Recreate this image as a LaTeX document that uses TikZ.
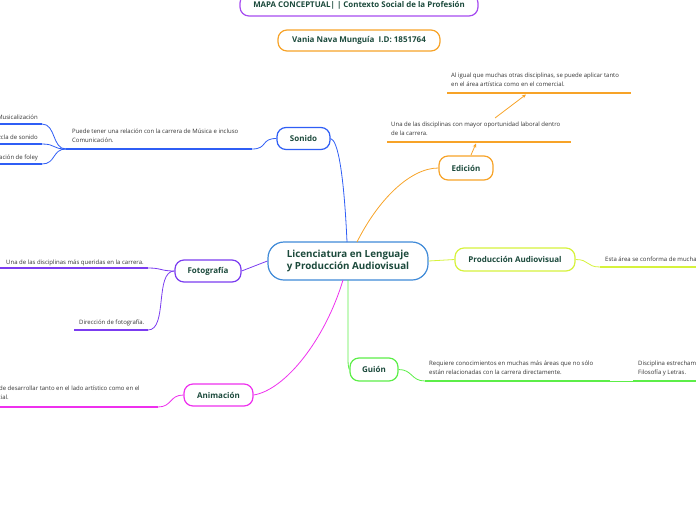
\documentclass[tikz,border=0pt]{standalone}
\usepackage{fontspec}
\setmainfont{Open Sans}
\usetikzlibrary{arrows.meta}
\definecolor{cSon}{HTML}{2F5EF5}
\definecolor{cCen}{HTML}{3F8AD8}
\definecolor{cEdi}{HTML}{F7A328}
\definecolor{cPro}{HTML}{D6F23C}
\definecolor{cFot}{HTML}{7B3CF0}
\definecolor{cAni}{HTML}{EE30EE}
\definecolor{cGui}{HTML}{5CEE48}
\definecolor{cTit}{HTML}{A64CF0}
\definecolor{txtgreen}{HTML}{1C4A3C}
\definecolor{txtgray}{HTML}{333333}
\begin{document}
\begin{tikzpicture}[x=1pt,y=-1pt,
  topic/.style={draw=#1, line width=1.2pt, rounded corners=9pt, fill=white,
    font=\bfseries\fontsize{8}{9.5}\selectfont, text=txtgreen,
    minimum height=22pt, inner sep=0pt, align=center},
  sub/.style={font=\fontsize{6}{9}\selectfont, text=txtgray, align=left, inner sep=0pt},
  uline/.style={draw=#1, line width=1.6pt},
  conn/.style={draw=#1, line width=0.8pt},
  arr/.style={draw=cEdi, line width=0.8pt, -{Stealth[length=4pt,width=3.5pt]}},
]
\useasboundingbox (0,0) rectangle (696,520);

% header nodes
\node[topic=cTit, minimum width=238pt, font=\bfseries\fontsize{7.9}{9}\selectfont] (title) at (359,5) {MAPA CONCEPTUAL| | Contexto Social de la Profesión};
\node[topic=cEdi, minimum width=162pt, minimum height=21pt] (name) at (359,40.5) {Vania Nava Munguía \ I.D: 1851764};

% central node
\node[draw=cCen, line width=1.2pt, rounded corners=16pt, fill=white,
  font=\bfseries\fontsize{9.8}{12.5}\selectfont, text=txtgreen, align=center,
  minimum width=160pt, minimum height=38pt, inner sep=0pt] (centro) at (348,261)
  {Licenciatura en Lenguaje\\y Producción Audiovisual};

% topics
\node[topic=cSon, minimum width=53pt] (sonido) at (303.5,138.5) {Sonido};
\node[topic=cEdi, minimum width=54pt, minimum height=24pt] (edicion) at (466,168) {Edición};
\node[topic=cPro, minimum width=120pt, minimum height=23pt] (prod) at (515,259.5) {Producción Audiovisual};
\node[topic=cFot, minimum width=66pt] (foto) at (208,271) {Fotografía};
\node[topic=cAni, minimum width=69pt] (anim) at (218.5,395) {Animación};
\node[topic=cGui, minimum width=48pt, minimum height=23pt] (guion) at (374,369.5) {Guión};

% main connectors
\coordinate (cS) at (347,242);
\coordinate (cE) at (357,242);
\coordinate (cA) at (343,280);
\coordinate (cG) at (348,280);
\coordinate (cG2) at (348,360);
\draw[conn=cSon] (cS) .. controls (344,175) and (338,140) .. (sonido.east);
\draw[conn=cEdi] (cE) .. controls (378,200) and (410,168) .. (edicion.west);
\draw[conn=cPro] (centro.east) -- (prod.west);
\draw[conn=cFot] (centro.west) -- (foto.east);
\draw[conn=cAni] (cA) .. controls (325,340) and (285,390) .. (anim.east);
\draw[conn=cGui] (cG) -- (cG2) .. controls (348,366) and (349,369.5) .. (guion.west);

% Sonido branch
\coordinate (s1s) at (66,149);
\coordinate (s1e) at (252,149);
\draw[uline=cSon] (s1s) -- (s1e);
\draw[conn=cSon] (sonido.west) .. controls +(-16,0) and +(16,0) .. (s1e);
\node[sub, anchor=north west] (s1t) at (72,129) {Puede tener una relación con la carrera de Música e incluso\\Comunicación.};
\foreach \n/\y/\t in {m1/124/Musicalización, m2/144/Mezcla de sonido, m3/164/Grabación de foley}{
  \coordinate (\n e) at (42,\y);
  \coordinate (\n s) at (-5,\y);
  \draw[uline=cSon] (\n s) -- (\n e);
  \draw[conn=cSon] (s1s) .. controls +(-14,0) and +(14,0) .. (\n e);
  \node[sub, anchor=base east] (\n t) at (38,\y-5) {\t};
}

% Edición branch
\coordinate (e1s) at (387,142);
\coordinate (e1e) at (571,142);
\coordinate (e1a) at (476,143.5);
\coordinate (e1b) at (471,155);
\draw[uline=cEdi] (e1s) -- (e1e);
\draw[arr] (e1b) -- (e1a);
\node[sub, anchor=north west] (e1t) at (391,122) {Una de las disciplinas con mayor oportunidad laboral dentro\\de la carrera.};
\coordinate (e2s) at (447,93);
\coordinate (e2e) at (631,93);
\coordinate (e2a) at (526,94.5);
\coordinate (e2b) at (495,118);
\draw[uline=cEdi] (e2s) -- (e2e);
\draw[arr] (e2b) -- (e2a);
\node[sub, anchor=north west] (e2t) at (451,73) {Al igual que muchas otras disciplinas, se puede aplicar tanto\\en el área artística como en el comercial.};

% Producción branch
\coordinate (p1s) at (600,267);
\coordinate (p1e) at (710,267);
\draw[uline=cPro] (p1s) -- (p1e);
\draw[conn=cPro] (prod.east) .. controls +(14,0) and +(-14,0) .. (p1s);
\node[sub, anchor=base west] (p1t) at (605,261) {Esta área se conforma de muchas disciplinas.};

% Fotografía branch
\coordinate (f1s) at (-5,268);
\coordinate (f1e) at (148,268);
\draw[uline=cFot] (f1s) -- (f1e);
\draw[conn=cFot] (foto.west) .. controls +(-14,0) and +(14,0) .. (f1e);
\node[sub, anchor=base west] (f1t) at (6,264) {Una de las disciplinas más queridas en la carrera.};
\coordinate (f2s) at (74,330);
\coordinate (f2e) at (148,330);
\draw[uline=cFot] (f2s) -- (f2e);
\draw[conn=cFot] (foto.west) .. controls +(-20,0) and +(20,0) .. (f2e);
\node[sub, anchor=base west] (f2t) at (79,324.5) {Dirección de fotografía.};

% Animación branch
\coordinate (a1s) at (-5,407);
\coordinate (a1e) at (158,407);
\draw[uline=cAni] (a1s) -- (a1e);
\draw[conn=cAni] (anim.west) .. controls +(-14,0) and +(14,0) .. (a1e);
\node[sub, anchor=north west] (a1t) at (-20,386) {Se puede desarrollar tanto en el lado artístico como en el\\comercial.};

% Guión branch
\coordinate (g1s) at (425,381);
\coordinate (g1e) at (610,381);
\draw[uline=cGui] (g1s) -- (g1e);
\draw[conn=cGui] (guion.east) .. controls +(14,0) and +(-14,0) .. (g1s);
\node[sub, anchor=north west] (g1t) at (429,361) {Requiere conocimientos en muchas más áreas que no sólo\\están relacionadas con la carrera directamente.};
\coordinate (g2s) at (633,381);
\coordinate (g2e) at (710,381);
\draw[conn=cGui] (g1e) -- (g2s);
\draw[uline=cGui] (g2s) -- (g2e);
\node[sub, anchor=north west] (g2t) at (638,361) {Disciplina estrechamente relacionada con\\Filosofía y Letras.};
\end{tikzpicture}
\end{document}
